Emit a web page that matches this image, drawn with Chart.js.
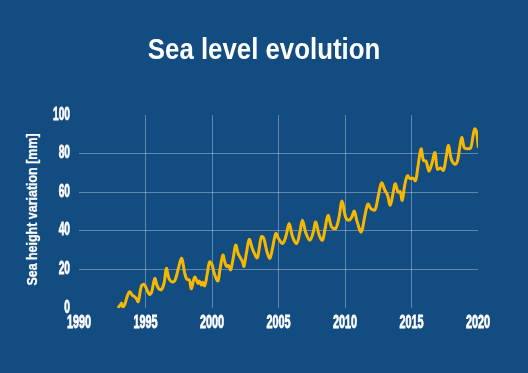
<!DOCTYPE html>
<html>
<head>
<meta charset="utf-8">
<script src="https://cdn.jsdelivr.net/npm/chart.js@4/dist/chart.umd.min.js"></script>
<style>
html,body{margin:0;padding:0;background:#124c81;}
#wrap{width:528px;height:373px;position:relative;}
</style>
</head>
<body>
<div id="wrap"><canvas id="c" width="528" height="373"></canvas></div>
<script>
const TITLE = "Sea level evolution";
const Y_TITLE = "Sea height variation [mm]";
const X_TICKS = [1990, 1995, 2000, 2005, 2010, 2015, 2020];
const Y_TICKS = [0, 20, 40, 60, 80, 100];
const years = [
 1992.93,1993.1,1993.2,1993.3,1993.45,1993.6,1993.8,1994.0,1994.15,1994.3,1994.45,1994.7,1994.9,
 1995.1,1995.3,1995.45,1995.7,1995.85,1996.0,1996.2,1996.4,1996.57,1996.75,1996.95,1997.2,1997.5,
 1997.72,1997.95,1998.1,1998.3,1998.45,1998.7,1998.95,1999.05,1999.2,1999.3,1999.45,1999.65,1999.82,
 2000.0,2000.1,2000.3,2000.45,2000.6,2000.82,2000.96,2001.1,2001.25,2001.4,2001.6,2001.78,2001.96,
 2002.1,2002.3,2002.4,2002.6,2002.8,2003.0,2003.14,2003.4,2003.55,2003.72,2003.9,2004.1,2004.35,
 2004.55,2004.8,2005.0,2005.3,2005.55,2005.8,2006.05,2006.36,2006.6,2006.8,2007.05,2007.36,2007.6,
 2007.8,2008.05,2008.3,2008.5,2008.72,2009.0,2009.3,2009.55,2009.78,2010.05,2010.3,2010.5,2010.7,
 2010.9,2011.22,2011.5,2011.72,2011.95,2012.25,2012.5,2012.75,2013.0,2013.2,2013.4,2013.6,2013.77,
 2014.0,2014.15,2014.3,2014.5,2014.7,2014.9,2015.1,2015.3,2015.5,2015.72,2015.9,2016.1,2016.3,
 2016.5,2016.76,2016.95,2017.2,2017.4,2017.6,2017.78,2018.0,2018.27,2018.45,2018.62,2018.78,
 2018.97,2019.2,2019.45,2019.62,2019.75,2019.88,2020.03
];
const seaLevel = [
 0,1.5,2.5,0.5,2,5.5,8.4,6.7,6,5,3.3,11.5,12.2,
 9.5,7.0,8,15.3,12,10,9.5,13,20.5,15.5,13.6,14.1,21.3,
 25.7,18,15,14.5,10,16,12.8,14,11.9,13.4,11.5,18,23.9,
 22.5,19.6,15.5,14,20,27.4,23.9,21.5,22,19.8,26,32.6,28.3,
 26.5,23.9,21.6,29,35.5,31.5,29,26,31,37,36,30,25.7,
 31,38.6,36,33.4,37,43.8,37,33.4,39,45.5,39,35.1,39,
 44.6,38,35.1,41,48,42,41.2,47,55.5,47,45.5,47,50.2,
 45,39.4,48,53.8,51.5,50.8,58,64.8,61,58.4,53.2,59,64.4,
 60,60.3,55.8,64,68.5,67,67.3,66,74,82.5,76.5,76,71,
 74,80.5,72,72.5,71.3,78,84.2,77,74.5,76,83,88.5,
 83,82.5,83,89,92.8,91.5,83
];

const BG = '#124c81';
const GRID = 'rgba(255,255,255,0.33)';
const LINE = '#f6b700';
const FONT = "'Liberation Sans', Arial, sans-serif";

function squishText(ctx, text, x, y, sx, font, align, baseline, rot, strokeW) {
  ctx.save();
  ctx.translate(x, y);
  if (rot) ctx.rotate(rot);
  ctx.scale(sx, 1);
  ctx.font = font;
  ctx.fillStyle = '#ffffff';
  ctx.textAlign = align;
  ctx.textBaseline = baseline;
  ctx.fillText(text, 0, 0);
  if (strokeW) {
    ctx.strokeStyle = '#ffffff';
    ctx.lineWidth = strokeW;
    ctx.strokeText(text, 0, 0);
  }
  ctx.restore();
}

const bgPlugin = {
  id: 'bg',
  beforeDraw(chart) {
    const c = chart.ctx;
    c.save();
    c.fillStyle = BG;
    c.fillRect(0, 0, chart.width, chart.height);
    c.restore();
  }
};

const textPlugin = {
  id: 'texts',
  afterDraw(chart) {
    const c = chart.ctx;
    const xs = chart.scales.x, ys = chart.scales.y;
    const tickFont = "bold 17.5px " + FONT;
    squishText(c, TITLE, chart.width / 2, 59, 0.89, "bold 29px " + FONT, 'center', 'alphabetic', 0, 0);
    X_TICKS.forEach(v => {
      squishText(c, String(v), xs.getPixelForValue(v), 327.5, 0.62, tickFont, 'center', 'alphabetic', 0, 0.8);
    });
    Y_TICKS.forEach(v => {
      squishText(c, String(v), 70, ys.getPixelForValue(v) + 4.5, 0.58, tickFont, 'right', 'alphabetic', 0, 0.8);
    });
    squishText(c, Y_TITLE, 33, (ys.top + ys.bottom) / 2 - 2, 0.83, "bold 15px " + FONT, 'center', 'middle', -Math.PI / 2, 0.3);
  }
};

const pts = years.map((x, i) => ({x: x, y: seaLevel[i]}));

new Chart(document.getElementById('c'), {
  type: 'line',
  data: {
    datasets: [{
      data: pts,
      borderColor: LINE,
      borderWidth: 3,
      pointRadius: 0,
      tension: 0.35,
      fill: false
    }]
  },
  options: {
    responsive: false,
    animation: false,
    layout: { padding: { left: 0, right: 50, top: 115, bottom: 0 } },
    plugins: {
      legend: { display: false },
      tooltip: { enabled: false },
      title: { display: false }
    },
    scales: {
      x: {
        type: 'linear',
        min: 1990, max: 2020,
        afterBuildTicks(scale) { scale.ticks = X_TICKS.map(v => ({value: v})); },
        afterFit(scale) { scale.height = 65; },
        border: { display: false },
        grid: {
          drawTicks: false,
          lineWidth: 1,
          color: (ctx) => (ctx.tick && (ctx.tick.value === 1990 || ctx.tick.value === 2020)) ? 'rgba(0,0,0,0)' : GRID
        },
        ticks: { display: false }
      },
      y: {
        min: 0, max: 100,
        afterBuildTicks(scale) { scale.ticks = Y_TICKS.map(v => ({value: v})); },
        afterFit(scale) { scale.width = 79; },
        border: { display: false },
        grid: {
          drawTicks: false,
          lineWidth: 1,
          color: (ctx) => (ctx.tick && (ctx.tick.value === 0 || ctx.tick.value === 100)) ? 'rgba(0,0,0,0)' : GRID
        },
        ticks: { display: false },
        title: { display: false }
      }
    }
  },
  plugins: [bgPlugin, textPlugin]
});
</script>
</body>
</html>
